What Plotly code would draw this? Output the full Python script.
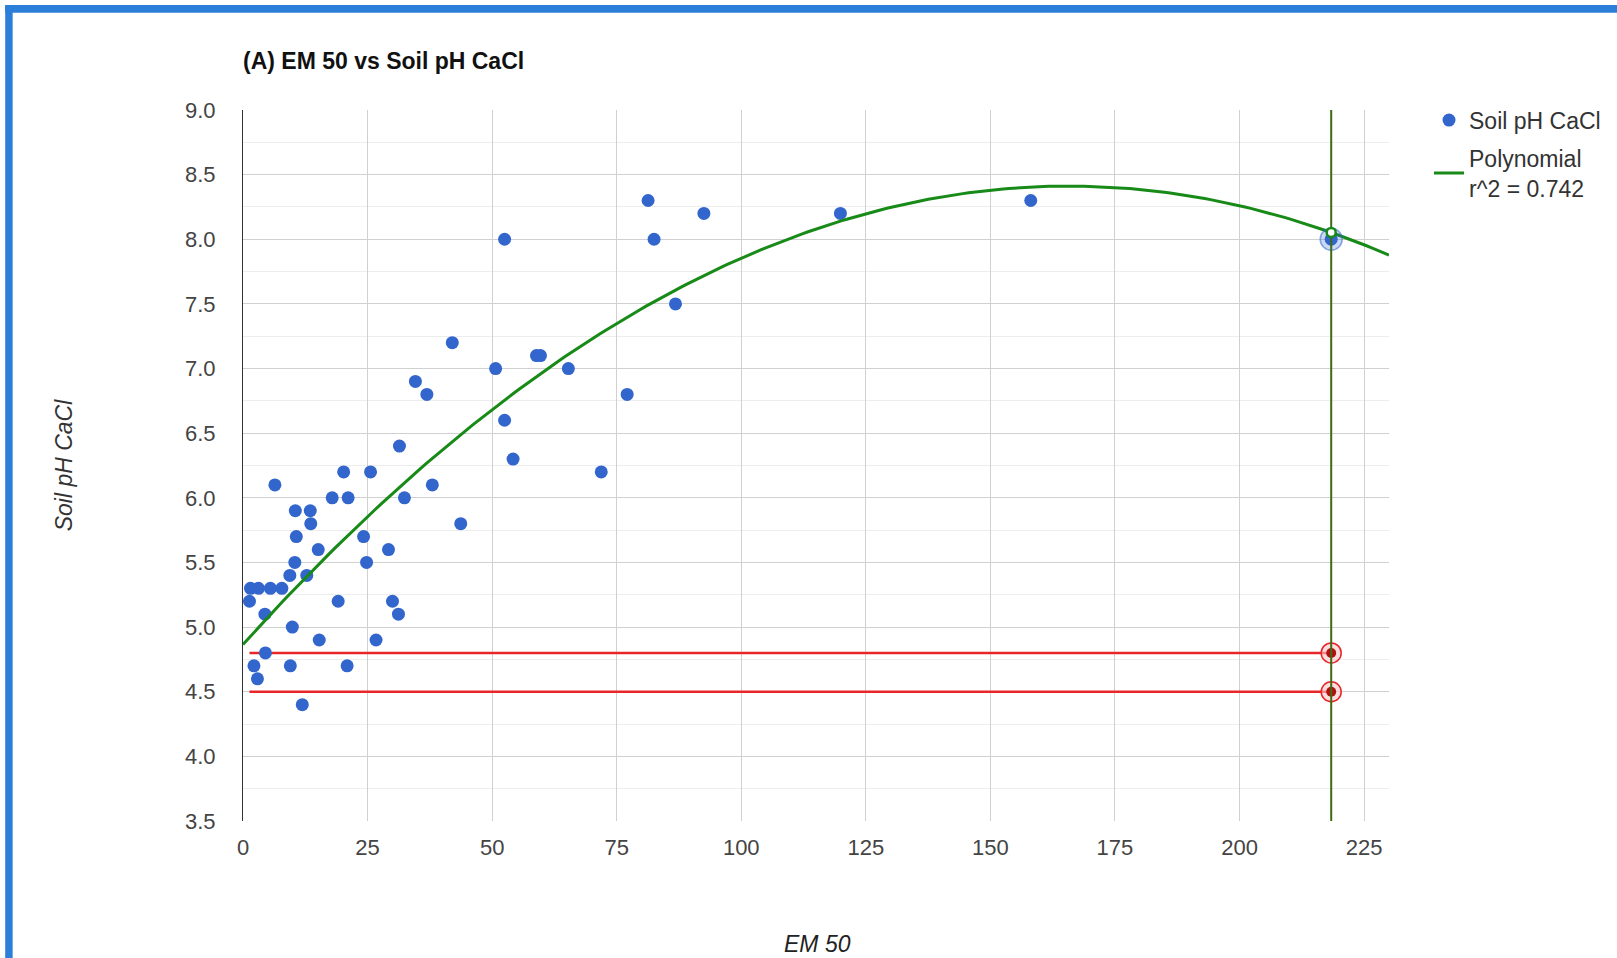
import numpy as np
import plotly.graph_objects as go

# EM 50 measurements and matching soil pH (CaCl2)
em50 = [1.3, 1.5, 3.1, 5.5, 7.8, 4.4, 6.4, 2.2, 2.9, 4.5,
        9.4, 10.4, 10.7, 10.5, 13.5, 13.6, 12.8, 9.9, 9.5, 11.9,
        15.1, 15.3, 17.9, 20.2, 21.1, 19.1, 20.9, 24.2, 24.8, 25.6,
        26.7, 29.2, 30.0, 31.2, 31.4, 32.4, 34.6, 36.9, 38.0, 42.0,
        43.7, 50.7, 52.5, 52.5, 54.2, 58.9, 59.7, 65.3, 71.9, 77.1,
        81.3, 82.5, 86.8, 92.5, 119.9, 158.1, 218.4]
soil_ph = [5.2, 5.3, 5.3, 5.3, 5.3, 5.1, 6.1, 4.7, 4.6, 4.8,
           5.4, 5.5, 5.7, 5.9, 5.9, 5.8, 5.4, 5.0, 4.7, 4.4,
           5.6, 4.9, 6.0, 6.2, 6.0, 5.2, 4.7, 5.7, 5.5, 6.2,
           4.9, 5.6, 5.2, 5.1, 6.4, 6.0, 6.9, 6.8, 6.1, 7.2,
           5.8, 7.0, 8.0, 6.6, 6.3, 7.1, 7.1, 7.0, 6.2, 6.8,
           8.3, 8.0, 7.5, 8.2, 8.2, 8.3, 8.0]

# selected sample and reference pH levels
selected_em50 = 218.4
selected_ph = 8.0
ref_levels = [4.8, 4.5]
ref_start = 1.3

x_range = [0, 230]
y_range = [3.5, 9.0]
x_ticks = [0, 25, 50, 75, 100, 125, 150, 175, 200, 225]
r2_label = "r^2 = 0.742"

# quadratic trendline fitted to the samples
coef = np.polyfit(em50, soil_ph, 2)
fit_x = np.linspace(x_range[0], x_range[1], 200)
fit_y = np.polyval(coef, fit_x)
sel_fit = float(np.polyval(coef, selected_em50))

BLUE = "#3366cc"
GREEN = "#178a17"
OLIVE = "#3e6b14"
RED = "#e8262a"
FONT = "Liberation Sans, Arial, sans-serif"

fig = go.Figure()

# reference pH levels
for lvl in ref_levels:
    fig.add_trace(go.Scatter(
        x=[ref_start, selected_em50], y=[lvl, lvl], mode="lines",
        line=dict(color=RED, width=2.5), showlegend=False, hoverinfo="skip"))

fig.add_trace(go.Scatter(
    x=em50, y=soil_ph, mode="markers", name="Soil pH CaCl",
    marker=dict(color=BLUE, size=13), legendgroup="a"))

fig.add_trace(go.Scatter(
    x=fit_x, y=fit_y, mode="lines", name="Polynomial<br>" + r2_label,
    line=dict(color=GREEN, width=3), legendgroup="b"))

# halo around the selected sample
fig.add_trace(go.Scatter(
    x=[selected_em50], y=[selected_ph], mode="markers", showlegend=False,
    marker=dict(color="rgba(51,102,204,0.25)", size=22,
                line=dict(color="rgba(51,102,204,0.55)", width=1.5)),
    hoverinfo="skip"))

# rings at the reference levels
fig.add_trace(go.Scatter(
    x=[selected_em50] * len(ref_levels), y=ref_levels, mode="markers",
    showlegend=False, hoverinfo="skip",
    marker=dict(color="rgba(250,200,200,0.6)", size=20,
                line=dict(color=RED, width=1.5))))
fig.add_trace(go.Scatter(
    x=[selected_em50] * len(ref_levels), y=ref_levels, mode="markers",
    showlegend=False, hoverinfo="skip",
    marker=dict(color="#b01212", size=10)))

# vertical crosshair at the selected sample
fig.add_trace(go.Scatter(
    x=[selected_em50, selected_em50], y=y_range, mode="lines",
    line=dict(color=OLIVE, width=2), showlegend=False, hoverinfo="skip"))

# point on the trendline
fig.add_trace(go.Scatter(
    x=[selected_em50], y=[sel_fit], mode="markers", showlegend=False,
    marker=dict(color="white", size=9, line=dict(color=GREEN, width=2.5)),
    hoverinfo="skip"))

# page frame
fig.add_shape(type="rect", xref="paper", yref="paper",
              x0=-0.2075, x1=1.3, y0=1.1368, y1=1.1477,
              fillcolor="#2b7fd8", line_width=0, layer="above")
fig.add_shape(type="rect", xref="paper", yref="paper",
              x0=-0.2075, x1=-0.2010, y0=-0.25, y1=1.1477,
              fillcolor="#2b7fd8", line_width=0, layer="above")

fig.add_annotation(text="<i>EM 50</i>", xref="paper", yref="paper",
                   x=(818 - 243) / 1147, y=-(944 - 821) / 711,
                   xanchor="center", yanchor="middle", showarrow=False,
                   font=dict(family=FONT, size=23, color="#222"))

fig.update_layout(
    width=1617, height=958,
    margin=dict(l=243, r=227, t=110, b=137),
    paper_bgcolor="white", plot_bgcolor="white",
    font=dict(family=FONT, size=21, color="#444"),
    title=dict(text="<b>(A) EM 50 vs Soil pH CaCl</b>",
               x=243 / 1617, xanchor="left", y=1 - 61 / 958, yanchor="middle",
               font=dict(family=FONT, size=23, color="#111")),
    legend=dict(x=(1429 - 243) / 1147, y=1.016, xanchor="left", yanchor="top",
                font=dict(family=FONT, size=23, color="#333"),
                traceorder="grouped", tracegroupgap=5,
                bgcolor="rgba(0,0,0,0)"),
    showlegend=True,
)

fig.update_xaxes(
    range=x_range, tickvals=x_ticks, showgrid=True, gridcolor="#d0d0d0",
    gridwidth=1, zeroline=False, showline=False, ticks="",
    ticklabelstandoff=11, tickfont=dict(size=22, color="#444"))
fig.update_yaxes(
    range=y_range, dtick=0.5, tick0=3.5, tickformat=".1f",
    showgrid=True, gridcolor="#d0d0d0", gridwidth=1,
    minor=dict(dtick=0.25, showgrid=True, gridcolor="#ededed"),
    zeroline=False, showline=True, linecolor="#333", linewidth=1, ticks="",
    ticklabelstandoff=22, tickfont=dict(size=22, color="#444"),
    title=dict(text="<i>Soil pH CaCl</i>", standoff=105,
               font=dict(family=FONT, size=23, color="#333")))

fig.write_html("out.html")
